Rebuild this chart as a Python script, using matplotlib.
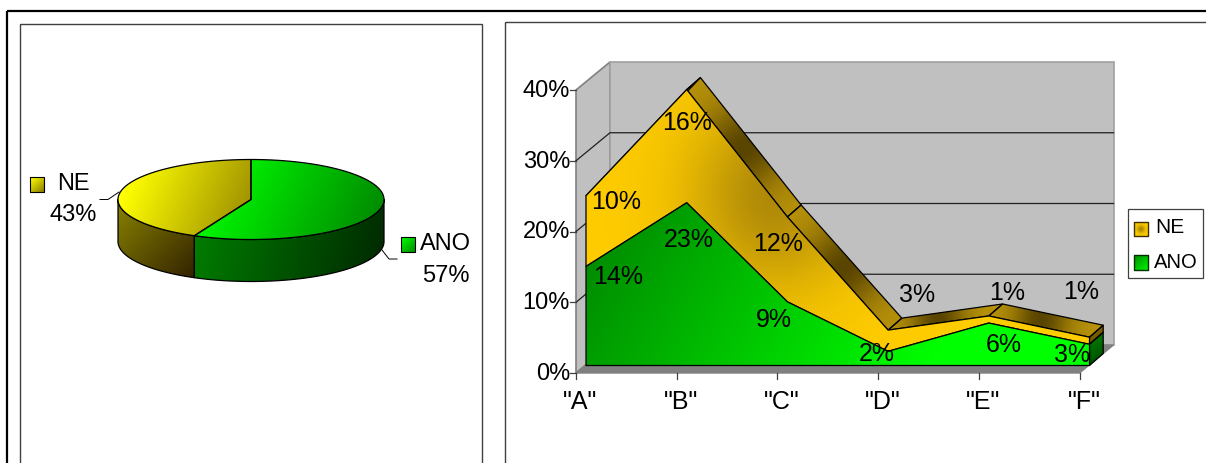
#!/usr/bin/env python3

import numpy as np
import matplotlib
matplotlib.use('Agg')
import matplotlib.pyplot as plt
from matplotlib.colors import LinearSegmentedColormap
from matplotlib.patches import Polygon, Rectangle

plt.rcParams['font.family'] = ['Liberation Sans', 'DejaVu Sans']

# Pie data
pie_labels = ['ANO', 'NE']
pie_shares = [57, 43]

# Area data, percent per category
categories = ['"A"', '"B"', '"C"', '"D"', '"E"', '"F"']
ano_values = [14, 23, 9, 2, 6, 3]
ne_values = [10, 16, 12, 3, 1, 1]
y_ticks = [0, 10, 20, 30, 40]

GOLD = '#FFCC00'
TEXT_PT = 17.0
LABEL_PT = 18.0

fig = plt.figure(figsize=(12.06, 4.63), dpi=100)
ax = fig.add_axes([0, 0, 1, 1])
ax.axis('off')


def gradient_poly(points, shade, colors, zorder, edge='black', lw=0.9):
    # fill a polygon with an image of shade(x, y), clipped to its outline
    points = np.asarray(points, dtype=float)
    x0, y0 = points.min(axis=0)
    x1, y1 = points.max(axis=0)
    xs = np.linspace(x0, x1, max(int(x1 - x0), 2))
    ys = np.linspace(y0, y1, max(int(y1 - y0), 2))
    X, Y = np.meshgrid(xs, ys)
    cmap = LinearSegmentedColormap.from_list('fill', colors)
    im = ax.imshow(shade(X, Y), extent=(x0, x1, y1, y0), origin='upper',
                   cmap=cmap, vmin=0, vmax=1, aspect='auto', zorder=zorder,
                   interpolation='bilinear')
    outline = Polygon(points, closed=True, facecolor='none', edgecolor=edge,
                      linewidth=lw, zorder=zorder + 0.1, joinstyle='round')
    ax.add_patch(outline)
    im.set_clip_path(Polygon(points, closed=True, transform=ax.transData))


def linear_shade(x0, y0, x1, y1):
    dx, dy = x1 - x0, y1 - y0

    def shade(X, Y):
        return np.clip(((X - x0) * dx + (Y - y0) * dy) / (dx * dx + dy * dy), 0, 1)
    return shade


# Outer page frame and the two chart panels
ax.add_patch(Rectangle((7, 11), 1300, 600, fill=False, edgecolor='black', linewidth=1.6))
ax.add_patch(Rectangle((20, 24), 462, 600, fill=False, edgecolor='#404040', linewidth=1))
ax.add_patch(Rectangle((505, 22), 800, 600, fill=False, edgecolor='#404040', linewidth=1))

# ---- 3D pie ----
cx, cy, rx, ry, depth = 251, 199.5, 133, 40, 42
split = 90 - 360 * pie_shares[0] / sum(pie_shares)


def rim(a0, a1, dy=0.0):
    t = np.radians(np.linspace(a0, a1, 120))
    return np.column_stack([cx + rx * np.cos(t), cy - ry * np.sin(t) + dy])


side_ano = np.vstack([rim(0, split), rim(split, 0, depth)])
side_ne = np.vstack([rim(split, -180), rim(-180, split, depth)])
gradient_poly(side_ano, linear_shade(195, 240, 384, 282), ['#007C00', '#002800'], 2)
gradient_poly(side_ne, linear_shade(118, 210, 195, 282), ['#837C00', '#302000'], 2)

top_ano = np.vstack([[[cx, cy]], rim(90, split)])
top_ne = np.vstack([[[cx, cy]], rim(split, 90 - 360)])
gradient_poly(top_ano, linear_shade(215, 165, 370, 235), ['#00FF00', '#008C00'], 3)
gradient_poly(top_ne, linear_shade(130, 175, 250, 225), ['#FFFF00', '#9A8C00'], 3)

# leader lines
ax.plot([100, 108, 119], [199.5, 199.5, 192], color='black', lw=0.7, zorder=4)
ax.plot([382, 389, 397], [250, 259, 259], color='black', lw=0.7, zorder=4)

# pie labels with their legend keys
gradient_poly([(30, 177), (43.5, 177), (43.5, 192), (30, 192)],
              linear_shade(30, 177, 44, 192), ['#FFFF00', '#8C8000'], 5, lw=0.8)
gradient_poly([(401, 237), (415, 237), (415, 252), (401, 252)],
              linear_shade(401, 237, 415, 252), ['#00FF00', '#009000'], 5, lw=0.8)
ax.text(73, 183.5, pie_labels[1], fontsize=TEXT_PT, ha='center', va='center', zorder=10)
ax.text(73.5, 215, f'{pie_shares[1]}%', fontsize=TEXT_PT, ha='center', va='center', zorder=10)
ax.text(445, 244, pie_labels[0], fontsize=TEXT_PT, ha='center', va='center', zorder=10)
ax.text(445.5, 275.5, f'{pie_shares[0]}%', fontsize=TEXT_PT, ha='center', va='center', zorder=10)

# ---- 3D stacked area ----
X0, Y0 = 576, 373        # front corner of the axes
STEP = 100.7             # px per category
PER_PCT = 7.075          # px per percent
BOX_DX, BOX_DY = 34, -28     # depth of the whole box
AREA_DX, AREA_DY = 10, -7.5  # front of the area inside the box
RIB_DX, RIB_DY = 13.7, -12   # thickness of the area

x_right = X0 + STEP * (len(categories) - 1)
y_top = Y0 - PER_PCT * y_ticks[-1]

# side wall, back wall, floor
ax.add_patch(Polygon([(X0, y_top), (X0 + BOX_DX, y_top + BOX_DY), (X0 + BOX_DX, Y0 + BOX_DY), (X0, Y0)],
                     facecolor='#C0C0C0', edgecolor='#808080', linewidth=1.2, zorder=1))
ax.add_patch(Polygon([(X0 + BOX_DX, y_top + BOX_DY), (x_right + BOX_DX, y_top + BOX_DY),
                      (x_right + BOX_DX, Y0 + BOX_DY), (X0 + BOX_DX, Y0 + BOX_DY)],
                     facecolor='#C0C0C0', edgecolor='#A0A0A0', linewidth=1.2, zorder=1))
ax.add_patch(Polygon([(X0, Y0), (X0 + BOX_DX, Y0 + BOX_DY), (x_right + BOX_DX, Y0 + BOX_DY), (x_right, Y0)],
                     facecolor='#808080', edgecolor='#808080', linewidth=1, zorder=1))

# gridlines and ticks on the value axis
for v in y_ticks:
    y = Y0 - PER_PCT * v
    if 0 < v < y_ticks[-1]:
        ax.plot([X0, X0 + BOX_DX, x_right + BOX_DX], [y, y + BOX_DY, y + BOX_DY],
                color='#202020', lw=0.9, zorder=2)
    ax.plot([X0 - 6, X0], [y, y], color='#404040', lw=0.9, zorder=2)
    ax.text(X0 - 6, y + 1, f'{v}%', fontsize=TEXT_PT, ha='right', va='center', zorder=10)

# category ticks and labels
for i, cat in enumerate(categories):
    x = X0 + STEP * i
    ax.plot([x, x], [Y0, Y0 + 6], color='#404040', lw=0.9, zorder=2)
    ax.text(x + 4.5, Y0 + 29, cat, fontsize=LABEL_PT, ha='center', va='center', zorder=10)

xs = X0 + AREA_DX + STEP * np.arange(len(categories))
base = Y0 + AREA_DY
y_ano = base - PER_PCT * np.array(ano_values)
y_ne = base - PER_PCT * (np.array(ano_values) + np.array(ne_values))

# top ribbons, darkest halfway along each segment
for i in range(len(xs) - 1):
    p0, p1 = np.array([xs[i], y_ne[i]]), np.array([xs[i + 1], y_ne[i + 1]])
    off = np.array([RIB_DX, RIB_DY])

    def ribbon_shade(X, Y, p0=p0, p1=p1):
        d = p1 - p0
        t = ((X - p0[0]) * d[0] + (Y - p0[1]) * d[1]) / (d @ d)
        return np.exp(-((t - 0.5) / 0.27) ** 2)

    gradient_poly([p0, p1, p1 + off, p0 + off], ribbon_shade, ['#B8920A', '#5A4500'], 3)

# end cap at the last category
x_end = xs[-1]
gradient_poly([(x_end, y_ano[-1]), (x_end + RIB_DX, y_ano[-1] + RIB_DY),
               (x_end + RIB_DX, base + RIB_DY), (x_end, base)],
              linear_shade(x_end, 340, x_end + RIB_DX, 366), ['#007800', '#004800'], 3)
gradient_poly([(x_end, y_ne[-1]), (x_end + RIB_DX, y_ne[-1] + RIB_DY),
               (x_end + RIB_DX, y_ano[-1] + RIB_DY), (x_end, y_ano[-1])],
              linear_shade(x_end, 322, x_end + RIB_DX, 340), ['#A88500', '#5A4500'], 3)


def ne_shade(X, Y):
    # soft dark patch around the falling part of the band
    return np.exp(-(((X - 775) / 85) ** 2 + ((Y - 195) / 95) ** 2))


band = list(zip(xs, y_ne)) + list(zip(xs[::-1], y_ano[::-1]))
gradient_poly(band, ne_shade, [GOLD, '#B08A08'], 4)

front = list(zip(xs, y_ano)) + [(xs[-1], base), (xs[0], base)]
gradient_poly(front, linear_shade(620, 190, 930, 370), ['#008A00', '#00FF00'], 5)

# data labels
ne_label_xy = [(616, 202), (687, 123), (778, 244), (917, 295), (1007, 293), (1081, 292)]
ano_label_xy = [(618, 277), (689, 240), (774, 320), (877, 354), (1004, 345), (1072, 355)]
for (lx, ly), v in zip(ne_label_xy, ne_values):
    ax.text(lx, ly, f'{v}%', fontsize=LABEL_PT, ha='center', va='center', zorder=10)
for (lx, ly), v in zip(ano_label_xy, ano_values):
    ax.text(lx, ly, f'{v}%', fontsize=LABEL_PT, ha='center', va='center', zorder=10)

# legend box
ax.add_patch(Rectangle((1127.5, 209), 75.5, 69, facecolor='white', edgecolor='#404040',
                       linewidth=0.9, zorder=6))


def key_shade(X, Y):
    mx, my = X.mean(), Y.mean()
    return np.exp(-(((X - mx) / 4) ** 2 + ((Y - my) / 4) ** 2))


gradient_poly([(1134, 222), (1147.5, 222), (1147.5, 236), (1134, 236)],
              key_shade, [GOLD, '#A88500'], 7, edge='#403000', lw=1)
gradient_poly([(1134, 255), (1147.5, 255), (1147.5, 270), (1134, 270)],
              linear_shade(1134, 255, 1148, 270), ['#009000', '#00F000'], 7, edge='#003000', lw=1)
ax.text(1155, 227.5, 'NE', fontsize=15, ha='left', va='center', zorder=10)
ax.text(1154, 262, 'ANO', fontsize=14.6, ha='left', va='center', zorder=10)

ax.set_xlim(0, 1206)
ax.set_ylim(463, 0)

fig.savefig('out.png', dpi=100, facecolor='white')
plt.close(fig)
